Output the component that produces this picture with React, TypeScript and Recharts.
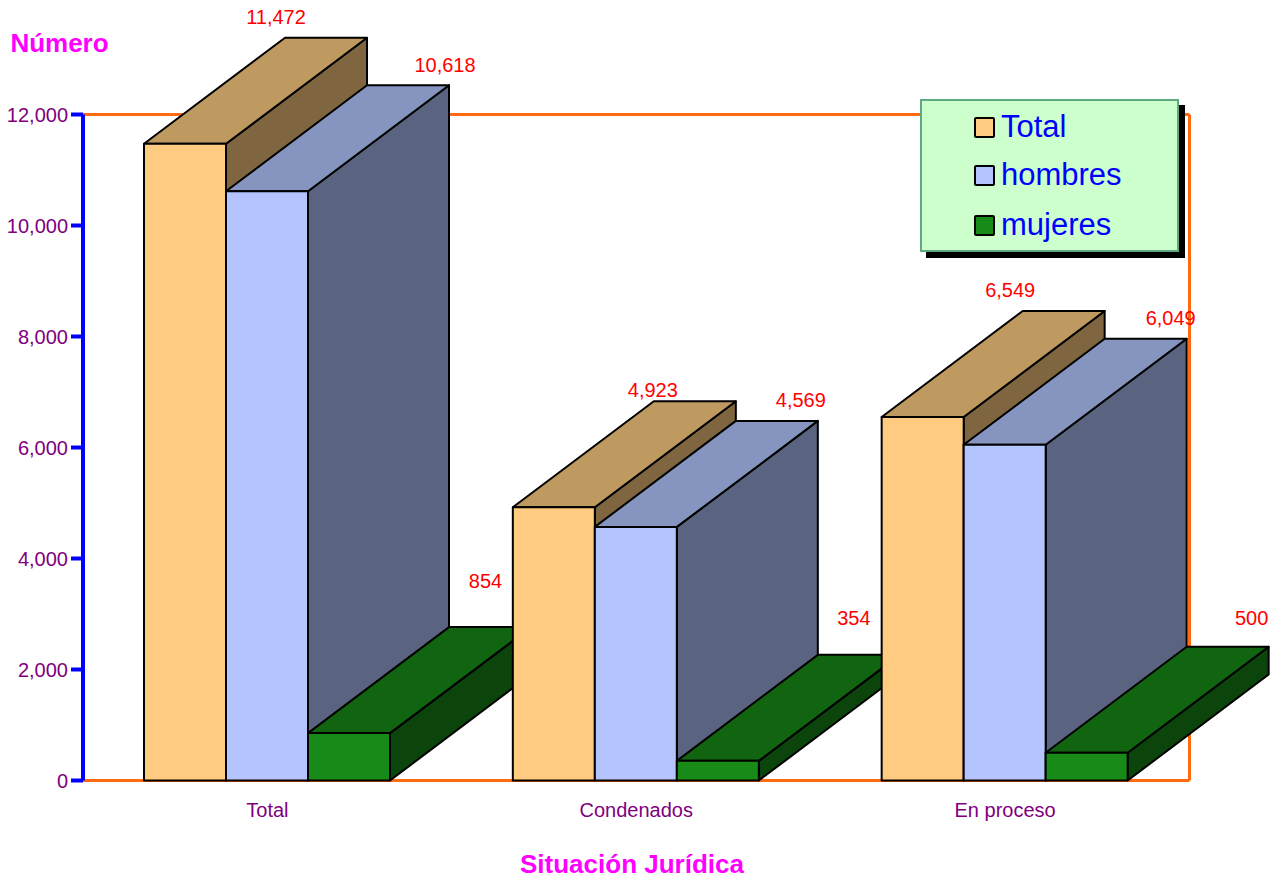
import React from 'react';
import {
  Bar,
  BarChart,
  LabelList,
  Legend,
  ReferenceLine,
  XAxis,
  YAxis,
} from 'recharts';

const categories = ['Total', 'Condenados', 'En proceso'];
const totalValues = [11472, 4923, 6549];
const hombresValues = [10618, 4569, 6049];
const mujeresValues = [854, 354, 500];
const yTicks = [0, 2000, 4000, 6000, 8000, 10000, 12000];

const series = [
  { key: 'total', name: 'Total', values: totalValues, front: '#ffcb80', top: '#bf9a60', side: '#7f6640' },
  { key: 'hombres', name: 'hombres', values: hombresValues, front: '#b3c4ff', top: '#8695bf', side: '#5a6380' },
  { key: 'mujeres', name: 'mujeres', values: mujeresValues, front: '#178a17', top: '#116511', side: '#0c450c' },
];

// the source chart places its value labels by hand, relative to each bar's top left corner
const labelNudges: Record<string, [number, number][]> = {
  total: [[132, -127], [140, -117], [128.5, -127]],
  hombres: [[219, -126], [206, -127], [207, -127]],
  mujeres: [[177.5, -152], [177, -143], [206, -135]],
};

const DEPTH_X = 141;
const DEPTH_Y = 106;
const FONT = '"Liberation Sans", Arial, sans-serif';

// one row per category, one column per bar, so bars can paint category by category
const rows = categories.map((category, c) => {
  const row: Record<string, string | number> = { category };
  series.forEach((s) => {
    row[`${s.key}_${c}`] = s.values[c];
  });
  return row;
});

function Box3D(props: any) {
  const { x, y, width, height, front, top, side } = props;
  if (!height || height <= 0) return null;
  const right = x + width;
  const bottom = y + height;
  const line = { stroke: '#000', strokeWidth: 2, strokeLinejoin: 'round' as const };
  return (
    <g>
      <polygon
        points={`${right},${y} ${right + DEPTH_X},${y - DEPTH_Y} ${right + DEPTH_X},${bottom - DEPTH_Y} ${right},${bottom}`}
        fill={side}
        {...line}
      />
      <polygon
        points={`${x},${y} ${x + DEPTH_X},${y - DEPTH_Y} ${right + DEPTH_X},${y - DEPTH_Y} ${right},${y}`}
        fill={top}
        {...line}
      />
      <rect x={x} y={y} width={width} height={height} fill={front} {...line} />
    </g>
  );
}

function ChartLegend() {
  return (
    <div
      style={{
        width: 255,
        height: 149,
        boxSizing: 'content-box',
        background: '#ccffcc',
        border: '2px solid #5fa883',
        boxShadow: '6px 6px 0 #000',
        position: 'relative',
        fontFamily: FONT,
        fontSize: 31,
        color: '#0000ff',
      }}
    >
      {series.map((s, i) => (
        <div
          key={s.key}
          style={{ position: 'absolute', left: 52, top: [8, 56, 106][i], display: 'flex', alignItems: 'center', lineHeight: '36px' }}
        >
          <span
            style={{
              width: 17,
              height: 17,
              background: s.front,
              border: '2px solid #000',
              borderRadius: 2,
              marginRight: 6,
              display: 'inline-block',
            }}
          />
          {s.name}
        </div>
      ))}
    </div>
  );
}

export default function App() {
  return (
    <div style={{ position: 'absolute', left: 0, top: 0, width: 1284, height: 881 }}>
      <BarChart
        width={1284}
        height={881}
        data={rows}
        barSize={82}
        barGap={0}
        barCategoryGap={0}
        margin={{ top: 114.5, right: 93.5, bottom: 60.5, left: 0 }}
      >
        <XAxis
          dataKey="category"
          height={40}
          interval={0}
          tickSize={0}
          tickMargin={22}
          zIndex={-10}
          axisLine={{ stroke: '#ff6a13', strokeWidth: 3 }}
          tickLine={false}
          tick={{ fill: '#800080', fontSize: 20, fontFamily: FONT }}
        />
        <YAxis
          yAxisId="left"
          width={83}
          domain={[0, 12000]}
          ticks={yTicks}
          interval={0}
          tickSize={12}
          tickMargin={3}
          tickFormatter={(v: number) => v.toLocaleString('en-US')}
          axisLine={{ stroke: '#0000ff', strokeWidth: 4 }}
          tickLine={{ stroke: '#0000ff', strokeWidth: 4 }}
          tick={{ fill: '#800080', fontSize: 20, fontFamily: FONT }}
        />
        <YAxis
          yAxisId="right"
          orientation="right"
          width={1}
          domain={[0, 12000]}
          zIndex={-10}
          tick={false}
          tickLine={false}
          axisLine={{ stroke: '#ff6a13', strokeWidth: 3 }}
        />
        <ReferenceLine yAxisId="left" y={12000} stroke="#ff6a13" strokeWidth={3} zIndex={-10} />
        <Legend
          layout="vertical"
          align="center"
          verticalAlign="middle"
          content={() => <ChartLegend />}
          wrapperStyle={{ position: 'absolute', left: 920, top: 99, width: 259, height: 153 }}
        />
        {categories.map((_, c) =>
          series.map((s) => (
            <Bar
              key={`${s.key}_${c}`}
              yAxisId="left"
              dataKey={`${s.key}_${c}`}
              stackId={s.key}
              isAnimationActive={false}
              shape={(p: any) => <Box3D {...p} front={s.front} top={s.top} side={s.side} />}
            >
              <LabelList
                dataKey={`${s.key}_${c}`}
                content={(p: any) => {
                  if (p.value == null || p.index !== c) return null;
                  const [dx, dy] = labelNudges[s.key][c];
                  return (
                    <text
                      x={p.x + dx}
                      y={p.y + dy}
                      textAnchor="middle"
                      dominantBaseline="central"
                      fill="#ff0000"
                      fontSize={20}
                      fontFamily={FONT}
                    >
                      {Number(p.value).toLocaleString('en-US')}
                    </text>
                  );
                }}
              />
            </Bar>
          )),
        )}
        <text x={59.5} y={43} textAnchor="middle" dominantBaseline="central" fill="#ff00ff" fontSize={26} fontWeight="bold" fontFamily={FONT}>
          Número
        </text>
        <text x={632} y={864} textAnchor="middle" dominantBaseline="central" fill="#ff00ff" fontSize={26} fontWeight="bold" fontFamily={FONT}>
          Situación Jurídica
        </text>
      </BarChart>
    </div>
  );
}
